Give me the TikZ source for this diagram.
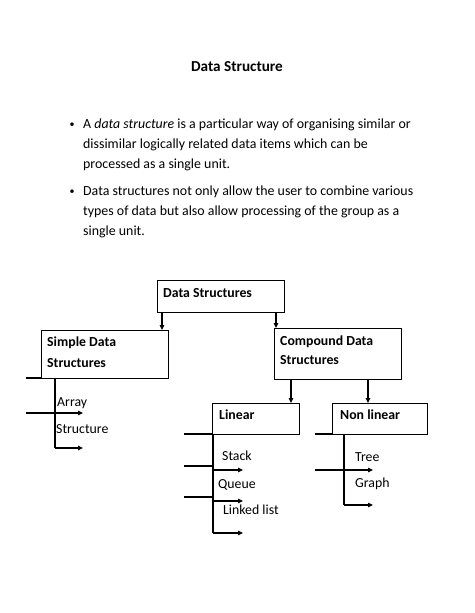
\documentclass[tikz,border=0pt]{standalone}
\usepackage{fontspec}
\setmainfont{Carlito}
\usetikzlibrary{arrows.meta}
\begin{document}
\begin{tikzpicture}[x=1pt,y=-1pt,
  box/.style={draw, line width=0.9pt, anchor=north west, inner sep=0pt, outer sep=0pt},
  lbl/.style={anchor=base west, inner sep=0pt, font=\fontsize{13.8}{15}\selectfont},
  blbl/.style={anchor=base west, inner sep=0pt, font=\fontsize{13.8}{15}\selectfont\bfseries},
  body/.style={anchor=base west, inner sep=0pt, font=\fontsize{13.9}{20}\selectfont},
  bul/.style={anchor=base, inner sep=0pt, font=\fontsize{10}{12}\selectfont},
  arr/.style={line width=1.2pt, -{Triangle[length=5pt,width=4.5pt]}},
  ln/.style={line width=1.2pt}]
\useasboundingbox (0,0) rectangle (474,613);

% title and bullets
\node[anchor=base, inner sep=0pt, font=\fontsize{15.2}{17}\selectfont\bfseries] (title) at (237,71) {Data Structure};
\node[bul] (b1) at (72,127) {•};
\node[body] (t11) at (83,128) {A \textit{data structure} is a particular way of organising similar or};
\node[body] (t12) at (83,148) {dissimilar logically related data items which can be};
\node[body] (t13) at (83,168) {processed as a single unit.};
\node[bul] (b2) at (72,194) {•};
\node[body] (t21) at (83,195) {Data structures not only allow the user to combine various};
\node[body] (t22) at (83,215) {types of data but also allow processing of the group as a};
\node[body] (t23) at (83,235) {single unit.};

% boxes
\node[box, minimum width=127pt, minimum height=32pt] (ds) at (157,280) {};
\node[box, minimum width=127pt, minimum height=48pt] (simple) at (41,330) {};
\node[box, minimum width=127pt, minimum height=51pt] (comp) at (274,328) {};
\node[box, minimum width=87pt, minimum height=31pt] (lin) at (212,403) {};
\node[box, minimum width=95pt, minimum height=31pt] (nl) at (332,403) {};

% box labels
\node[blbl] (dsl) at (163,297) {Data Structures};
\node[blbl] (sl1) at (47,346) {Simple Data};
\node[blbl] (sl2) at (47,367) {Structures};
\node[blbl] (cl1) at (280,345) {Compound Data};
\node[blbl] (cl2) at (280,364) {Structures};
\node[blbl] (linl) at (219,419) {Linear};
\node[blbl] (nll) at (340,419) {Non linear};

% item labels
\node[lbl] (arr1) at (57,406) {Array};
\node[lbl] (str1) at (56,433) {Structure};
\node[lbl] (stk) at (222,460) {Stack};
\node[lbl] (que) at (218,488) {Queue};
\node[lbl] (ll) at (223,514) {Linked list};
\node[lbl] (tree) at (355,461) {Tree};
\node[lbl] (graph) at (355,487) {Graph};

% connectors from top
\draw[arr] ([xshift=5pt]ds.south west) -- ([xshift=5pt]ds.south west |- simple.north);
\draw[arr] ([xshift=2pt]comp.north west |- ds.south) -- ([xshift=2pt]comp.north west);
\draw[arr] ([xshift=-8pt]lin.north east |- comp.south) -- ([xshift=-8pt]lin.north east);
\draw[arr] ([xshift=36pt]nl.north west |- comp.south) -- ([xshift=36pt]nl.north west);

% simple branch
\coordinate (s0) at (26,378);
\coordinate (sv) at (55,378);
\coordinate (sb) at (55,448);
\coordinate (sa1s) at (26,413);
\coordinate (sa1e) at (83,413);
\coordinate (sa2e) at (83,448);
\draw[ln] (s0) -- (simple.south west);
\draw[ln] (sv) -- (sb);
\draw[arr] (sa1s) -- (sa1e);
\draw[arr] (sb) -- (sa2e);

% linear branch
\coordinate (l0) at (184,434);
\coordinate (lv) at (213,434);
\coordinate (lb) at (213,533);
\coordinate (l1s) at (184,466);
\coordinate (l1m) at (213,466);
\coordinate (l1a) at (213,470);
\coordinate (l1e) at (243,470);
\coordinate (l2s) at (184,497);
\coordinate (l2m) at (213,497);
\coordinate (l2a) at (213,501);
\coordinate (l2e) at (243,501);
\coordinate (l3e) at (243,533);
\draw[ln] (l0) -- (lin.south west);
\draw[ln] (lv) -- (lb);
\draw[ln] (l1s) -- (l1m);
\draw[arr] (l1a) -- (l1e);
\draw[ln] (l2s) -- (l2m);
\draw[arr] (l2a) -- (l2e);
\draw[arr] (lb) -- (l3e);

% non linear branch
\coordinate (n0) at (315,434);
\coordinate (nv) at (344,434);
\coordinate (nb) at (344,505);
\coordinate (n1s) at (315,470);
\coordinate (n1e) at (373,470);
\coordinate (n2e) at (373,505);
\draw[ln] (n0) -- (nl.south west);
\draw[ln] (nv) -- (nb);
\draw[arr] (n1s) -- (n1e);
\draw[arr] (nb) -- (n2e);
\end{tikzpicture}
\end{document}
